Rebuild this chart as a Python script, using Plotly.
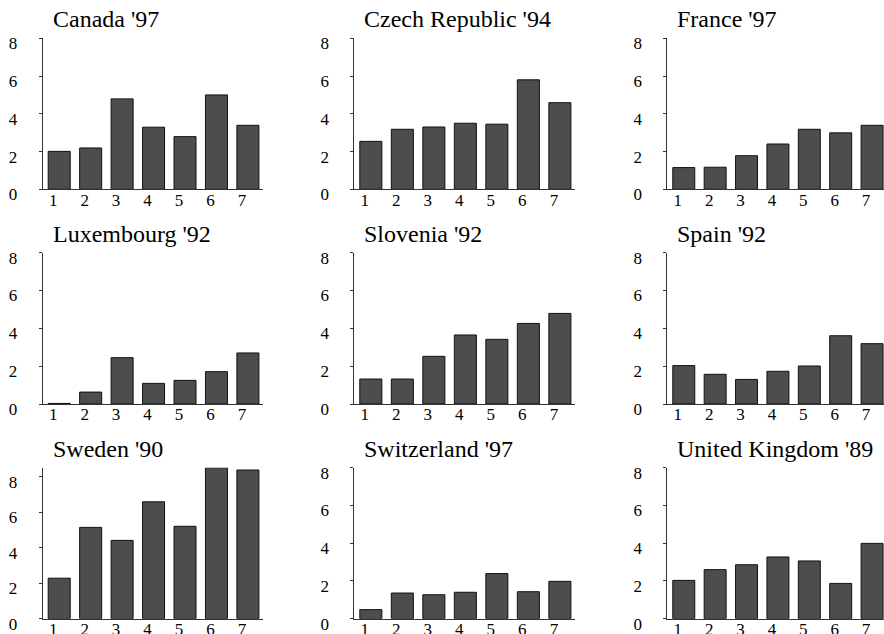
import plotly.graph_objects as go

# Survey categories on the horizontal axis
categories = [1, 2, 3, 4, 5, 6, 7]

# Panel titles, in reading order (row by row)
panel_titles = [
    "Canada '97", "Czech Republic '94", "France '97",
    "Luxembourg '92", "Slovenia '92", "Spain '92",
    "Sweden '90", "Switzerland '97", "United Kingdom '89",
]

# Values per panel
canada = [2.01, 2.19, 4.79, 3.29, 2.79, 5.00, 3.39]
czech_republic = [2.54, 3.18, 3.30, 3.50, 3.45, 5.80, 4.59]
france = [1.15, 1.17, 1.78, 2.40, 3.18, 2.99, 3.39]
luxembourg = [0.03, 0.63, 2.45, 1.09, 1.25, 1.71, 2.70]
slovenia = [1.32, 1.32, 2.52, 3.65, 3.42, 4.26, 4.79]
spain = [2.03, 1.57, 1.30, 1.73, 2.01, 3.61, 3.19]
sweden = [2.28, 5.14, 4.41, 6.58, 5.20, 8.50, 8.37]
switzerland = [0.48, 1.36, 1.27, 1.40, 2.39, 1.43, 1.98]
united_kingdom = [2.03, 2.60, 2.86, 3.27, 3.06, 1.87, 3.99]

y_tick_values = [0, 2, 4, 6, 8]
y_tick_labels = ["0", "2", "4", "6", "8"]

panel_values = [canada, czech_republic, france,
                luxembourg, slovenia, spain,
                sweden, switzerland, united_kingdom]
# Upper y limits: Sweden needs a little more headroom
y_upper = [8, 8, 8, 8, 8, 8, 8.5, 8, 8]

W, H = 884, 634
FONT = "Liberation Serif"

# Panel geometry in pixels: left edge / right edge of each column,
# top / bottom of each row
col_px = [(42.7, 263.0), (354.3, 575.0), (667.3, 884.0)]
row_px = [(38.3, 189.3), (252.7, 404.0), (467.7, 618.7)]
x_ranges = [(0.475, 7.48), (0.475, 7.48), (0.475, 7.38)]

fig = go.Figure()
annotations = []
layout_axes = {}

for i, (title, vals, ytop) in enumerate(zip(panel_titles, panel_values, y_upper)):
    r, c = divmod(i, 3)
    n = "" if i == 0 else str(i + 1)
    xa, ya = "x" + n, "y" + n

    fig.add_trace(go.Bar(
        x=categories, y=vals, xaxis=xa, yaxis=ya,
        width=0.7,
        marker=dict(color="#4d4d4d", line=dict(color="#111111", width=1)),
        showlegend=False, hoverinfo="x+y",
    ))

    x0, x1 = col_px[c]
    top, bot = row_px[r]
    layout_axes["xaxis" + n] = dict(
        domain=[x0 / W, min(x1 / W, 1.0)],
        anchor=ya, automargin=False,
        range=list(x_ranges[c]),
        tickmode="array", tickvals=categories,
        ticktext=[str(v) for v in categories],
        ticks="", showgrid=False, zeroline=False,
        showline=True, linecolor="#333333", linewidth=1,
        tickfont=dict(family=FONT, size=17, color="#000000"),
        ticklabelshift=-6, ticklabelstandoff=-5,
        fixedrange=True,
    )
    layout_axes["yaxis" + n] = dict(
        domain=[1 - bot / H, 1 - top / H],
        anchor=xa, automargin=False,
        range=[0, ytop],
        tickmode="array", tickvals=y_tick_values, ticktext=y_tick_labels,
        ticks="outside", ticklen=3, tickcolor="#333333", tickwidth=1,
        showgrid=False, zeroline=False,
        showline=True, linecolor="#333333", linewidth=1,
        tickfont=dict(family=FONT, size=17, color="#000000"),
        ticklabelshift=5, ticklabelstandoff=18,
        fixedrange=True,
    )

    annotations.append(dict(
        text=title, xref="paper", yref="paper",
        x=(x0 + 8) / W, y=1 - (top - 19) / H,
        xanchor="left", yanchor="middle", showarrow=False,
        font=dict(family=FONT, size=24, color="#000000"),
    ))

fig.update_layout(
    template="none",
    width=W, height=H,
    margin=dict(l=0, r=0, t=0, b=0, pad=0, autoexpand=False),
    paper_bgcolor="white", plot_bgcolor="white",
    annotations=annotations,
    bargap=0.3,
    **layout_axes,
)

fig.write_html("out.html")
